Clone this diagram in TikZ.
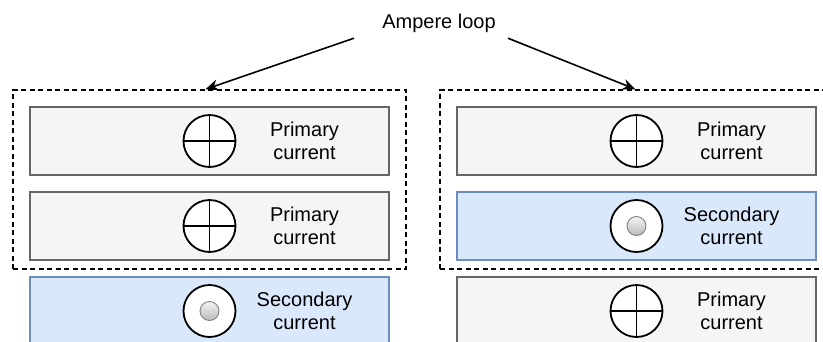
\documentclass[tikz,border=0pt]{standalone}
\usepackage{fontspec}
\setmainfont{Liberation Sans}
\usetikzlibrary{arrows.meta}
\definecolor{boxgrey}{HTML}{F5F5F5}
\definecolor{edgegrey}{HTML}{666666}
\definecolor{boxblue}{HTML}{DAE8FC}
\definecolor{edgeblue}{HTML}{6C8EBF}

\begin{document}
\begin{tikzpicture}[x=1pt, y=-1pt,
  greybox/.style={draw=edgegrey, fill=boxgrey, line width=1.6pt, minimum width=359pt, minimum height=68pt, inner sep=0pt},
  bluebox/.style={greybox, draw=edgeblue, fill=boxblue},
  loopbox/.style={draw, line width=1.5pt, dash pattern=on 5pt off 3.5pt, minimum width=393pt, minimum height=179pt, inner sep=0pt},
  caption/.style={font=\fontsize{20}{23}\selectfont, align=center},
  sym/.style={draw, fill=white, circle, line width=1.8pt, minimum size=52pt, inner sep=0pt},
  ball/.style={circle, top color=gray!8, bottom color=gray!55, draw=gray, line width=0.9pt, minimum size=19pt, inner sep=0pt},
  pointer/.style={-{Stealth[length=13pt, width=11pt]}, line width=1.6pt}]
  \useasboundingbox (0,0) rectangle (823,341);
  \clip (0,0) rectangle (823,341);

  % dashed loops
  \node[loopbox] (loopL) at (209.5,179.5) {};
  \node[loopbox] (loopR) at (636.5,179.5) {};

  % left stack
  \node[greybox] (pL1) at (209.5,141) {};
  \node[greybox] (pL2) at (209.5,226) {};
  \node[bluebox] (sL3) at (209.5,311) {};
  % right stack
  \node[greybox] (pR1) at (636.5,141) {};
  \node[bluebox] (sR2) at (636.5,226) {};
  \node[greybox] (pR3) at (636.5,311) {};

  % current going in
  \foreach \b in {pL1,pL2,pR1,pR3} {
    \node[sym] (c\b) at (\b) {};
    \draw[line width=1.8pt] (c\b.north) -- (c\b.south) (c\b.west) -- (c\b.east);
    \node[caption] (t\b) at ([xshift=95pt]\b.center) {Primary\\current};
  }
  % current coming out
  \foreach \b in {sL3,sR2} {
    \node[sym] (c\b) at (\b) {};
    \node[ball] (d\b) at (c\b) {};
    \node[caption] (t\b) at ([xshift=95pt]\b.center) {Secondary\\current};
  }

  \node[caption, minimum height=30pt] (loop) at (439,23) {Ampere loop};
  \draw[pointer] ([xshift=-85pt]loop.south) -- ([xshift=-4pt]loopL.north);
  \draw[pointer] ([xshift=69pt]loop.south) -- ([xshift=-1pt]loopR.north);
\end{tikzpicture}
\end{document}
